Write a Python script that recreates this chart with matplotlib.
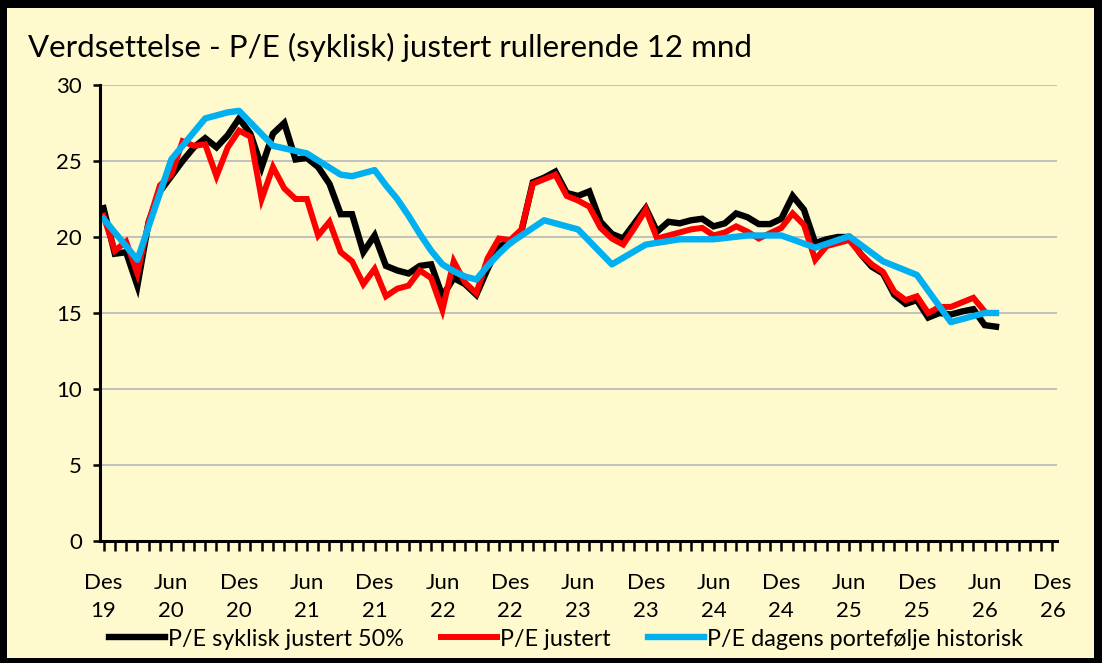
import numpy as np
import matplotlib.pyplot as plt
from matplotlib.patches import Rectangle

plt.rcParams['font.family'] = ['Lato', 'DejaVu Sans']

# P/E serier, en verdi per maaned fra des 2019
pe_syklisk = [21.9, 18.9, 19.0, 16.8, 21.0, 23.0, 24.0, 25.0, 25.9, 26.5,
              25.9, 26.7, 27.8, 26.8, 24.6, 26.8, 27.5, 25.1, 25.2, 24.6,
              23.5, 21.5, 21.5, 19.0, 20.1, 18.1, 17.8, 17.6, 18.1, 18.2,
              16.1, 17.3, 16.9, 16.2, 17.9, 19.4, 19.6, 20.4, 23.6, 23.9,
              24.3, 22.9, 22.7, 23.0, 21.0, 20.2, 19.9, 20.9, 21.9, 20.35,
              21.0, 20.9, 21.1, 21.2, 20.7, 20.9, 21.55, 21.3, 20.85, 20.85,
              21.2, 22.7, 21.8, 19.6, 19.85, 20.0, 20.0, 18.9, 18.05, 17.6,
              16.2, 15.6, 15.85, 14.7, 15.0, 14.9, 15.1, 15.25, 14.2, 14.1]

pe_justert = [21.4, 19.1, 19.7, 17.6, 21.0, 23.4, 24.1, 26.3, 26.0, 26.1,
              24.0, 25.9, 27.0, 26.6, 22.5, 24.6, 23.2, 22.5, 22.5, 20.1,
              21.0, 19.0, 18.4, 16.9, 17.9, 16.1, 16.6, 16.8, 17.8, 17.3,
              15.2, 18.4, 17.0, 16.3, 18.6, 19.9, 19.8, 20.5, 23.5, 23.8,
              24.1, 22.7, 22.4, 22.0, 20.6, 19.9, 19.5, 20.6, 21.8, 19.9,
              20.1, 20.3, 20.5, 20.6, 20.1, 20.3, 20.7, 20.35, 19.9, 20.25,
              20.6, 21.55, 20.8, 18.5, 19.4, 19.6, 19.8, 18.9, 18.2, 17.7,
              16.4, 15.85, 16.1, 15.0, 15.4, 15.4, 15.7, 16.0, 15.1]

# dagens portefolje: ikke alle maaneder har verdi (None = mangler)
pe_portefolje = [21.2, None, None, 18.5, None, None, 25.1, None, None, 27.8,
                 28.0, 28.2, 28.3, None, None, 26.0, None, None, 25.5, None,
                 None, 24.1, 24.0, 24.2, 24.4, 23.4, 22.5, 21.4, 20.2, 19.1,
                 18.2, 17.75, 17.4, 17.2, 18.1, 18.9, 19.6, None, None, 21.1,
                 None, None, 20.5, None, None, 18.2, None, None, 19.5, None,
                 None, 19.85, None, None, 19.85, None, None, 20.1, None, None,
                 20.1, None, None, 19.3, None, None, 20.05, None, None, 18.4,
                 None, None, 17.5, None, None, 14.4, None, None, 15.0, 15.0]

tick_labels = ['Des\n19', 'Jun\n20', 'Des\n20', 'Jun\n21', 'Des\n21', 'Jun\n22',
               'Des\n22', 'Jun\n23', 'Des\n23', 'Jun\n24', 'Des\n24', 'Jun\n25',
               'Des\n25', 'Jun\n26', 'Des\n26']

BG = '#FFFACD'
W, H = 1102, 663

fig = plt.figure(figsize=(W / 100, H / 100), dpi=100, facecolor='black')
fig.patches.append(Rectangle((7 / W, 5 / H), (1094 - 7) / W, (655 - 5) / H,
                             transform=fig.transFigure, facecolor=BG,
                             edgecolor='none', zorder=-10))
ax = fig.add_axes([100 / W, 1 - 541 / H, (1057 - 100) / W, (541 - 85) / H])
ax.set_facecolor(BG)

x1 = np.arange(len(pe_syklisk))
x2 = np.arange(len(pe_justert))
blue = np.array([np.nan if v is None else v for v in pe_portefolje])
x3 = np.arange(len(blue))
ok = ~np.isnan(blue)

ax.plot(x1, pe_syklisk, color='black', lw=4.6, solid_joinstyle='miter',
        label='P/E syklisk justert 50%', zorder=3)
ax.plot(x2, pe_justert, color='#FF0000', lw=4.3, solid_joinstyle='miter',
        label='P/E justert', zorder=4)
ax.plot(x3[ok], blue[ok], color='#00B0F0', lw=4.6, solid_joinstyle='round',
        label='P/E dagens portefølje historisk', zorder=5)

ax.set_ylim(0, 30)
ax.set_yticks(np.arange(0, 31, 5))
ax.set_xlim(-0.31, 84.4)
ax.set_xticks(np.arange(0, 85, 6))
ax.set_xticklabels(tick_labels, linespacing=1.5)
ax.set_xticks(np.arange(0, 85, 1), minor=True)

ax.grid(axis='y', color='#C0C0C0', lw=1.4, zorder=0)
ax.set_axisbelow(True)
for s in ['top', 'right']:
    ax.spines[s].set_visible(False)
for s in ['left', 'bottom']:
    ax.spines[s].set_linewidth(2.2)
    ax.spines[s].set_zorder(6)

ax.tick_params(axis='x', which='both', direction='out', length=7, width=1.8,
               labelsize=16, pad=16)
ax.tick_params(axis='y', direction='out', length=5, width=1.8,
               labelsize=16, pad=8)

fig.text(28 / W, 1 - 47 / H,
         'Verdsettelse - P/E (syklisk) justert rullerende 12 mnd',
         fontsize=22.5, ha='left', va='center')

fig.legend(loc='center', bbox_to_anchor=(566 / W, 1 - 639 / H), ncol=3,
           frameon=False, fontsize=16.8, handlelength=2.4, handletextpad=0.12,
           columnspacing=1.6)

fig.savefig('out.png', dpi=100, facecolor=fig.get_facecolor())
